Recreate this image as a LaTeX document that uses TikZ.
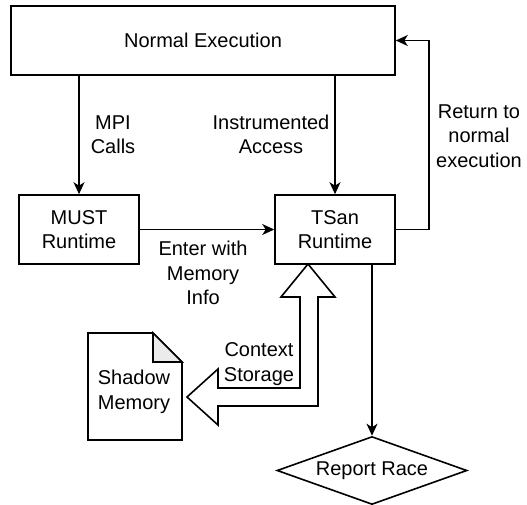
\documentclass[tikz,border=0pt]{standalone}
\usepackage{fontspec}
\setmainfont{Liberation Sans}
\usetikzlibrary{arrows.meta,shapes.geometric}
\begin{document}
\begin{tikzpicture}[x=1pt,y=-1pt,
  font=\fontsize{20}{24.5}\selectfont,
  every node/.style={align=center},
  box/.style={draw,line width=1.6pt,inner sep=0pt},
  lbl/.style={inner sep=0pt},
  arr/.style={line width=1.6pt,-{Stealth[length=12pt,width=11pt,inset=3.5pt]}},
  ln/.style={line width=1.6pt}]
\useasboundingbox (0,0) rectangle (527,504);
\node[box,minimum width=384pt,minimum height=69pt] (ne) at (203,40.5) {Normal Execution};
\node[box,minimum width=120pt,minimum height=69pt] (must) at (79,229.5) {MUST\\Runtime};
\node[box,minimum width=120pt,minimum height=69pt] (tsan) at (335,229.5) {TSan\\Runtime};
\node[draw,line width=1.6pt,shape=diamond,aspect=2.8,minimum width=190pt,minimum height=68pt,inner sep=0pt] (race) at (372,470.5) {Report Race};
% arrows
\draw[arr] (ne.south -| must.north) -- (must.north);
\draw[arr] (ne.south -| tsan.north) -- (tsan.north);
\draw[arr] (must.east) -- (tsan.west);
\draw[arr] (tsan.east) -- ++(33,0) |- (ne.east);
\draw[arr] (tsan.south -| race.north) -- (race.north);
% labels
\node[lbl] (l1) at (113,134.5) {MPI\\Calls};
\node[lbl] (l2) at (271,134.5) {Instrumented\\Access};
\node[lbl] (l3) at (479,136) {Return to\\normal\\execution};
\node[lbl] (l4) at (203,273) {Enter with\\Memory\\Info};
% shadow memory document
\draw[ln,fill=white] (88,333) -- (153,333) -- (182,362) -- (182,440) -- (88,440) -- cycle;
\draw[ln,fill=black!8] (153,333) -- (182,362) -- (153,362) -- cycle;
\node[lbl] (shadow) at (134,392) {Shadow\\Memory};
% big double arrow
\draw[ln,fill=white] (308,264) -- (335,297) -- (318,297) -- (318,406) -- (218,406) -- (218,425)
  -- (187,397) -- (218,369) -- (218,388) -- (300,388) -- (300,297) -- (281,297) -- cycle;
\node[lbl] (ctx) at (259,364) {Context\\Storage};
\end{tikzpicture}
\end{document}
